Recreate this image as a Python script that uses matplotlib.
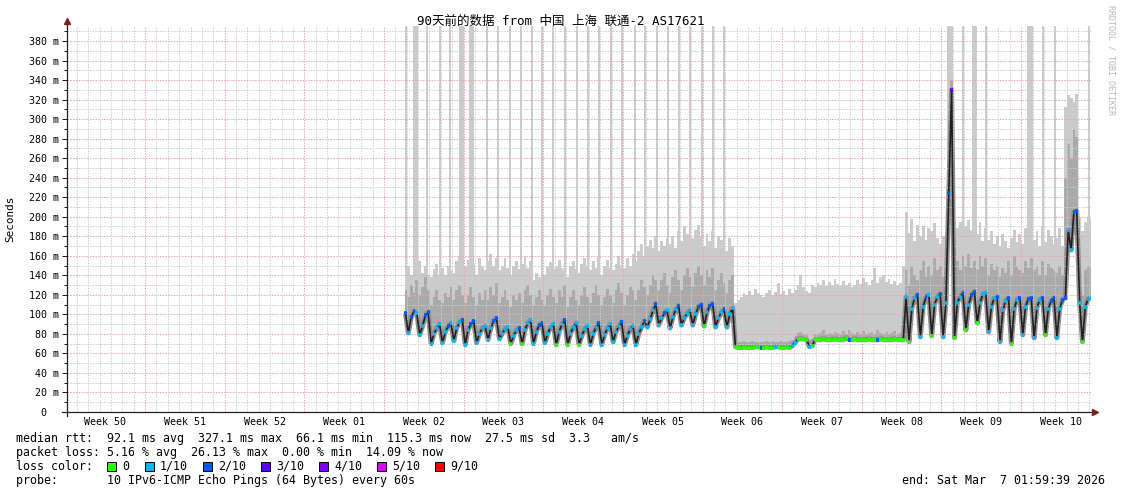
import numpy as np
import matplotlib.pyplot as plt
from matplotlib.collections import LineCollection
from matplotlib.patches import Rectangle
from matplotlib.transforms import blended_transform_factory

plt.rcParams['font.family'] = ['DejaVu Sans Mono']

W, H = 1121, 494

# samples every 6 hours, days counted from the start of the 90 day window
t_start = 29.75
t_step = 0.25

# median rtt in ms, one row per day
median_rtt = [
    101,
    81, 97, 103, 101,
    79, 88, 99, 102,
    70, 80, 86, 90,
    71, 82, 88, 91,
    73, 86, 92, 94,
    69, 84, 90, 93,
    71, 80, 86, 88,
    74, 86, 93, 96,
    75, 80, 85, 87,
    70, 78, 84, 86,
    70, 84, 91, 94,
    70, 82, 89, 91,
    71, 80, 87, 90,
    69, 82, 90, 94,
    69, 80, 87, 91,
    69, 78, 85, 88,
    69, 80, 87, 91,
    69, 79, 86, 90,
    72, 82, 88, 92,
    69, 78, 85, 88,
    69, 80, 87, 93,
    87, 95, 104, 111,
    89, 96, 101, 104,
    86, 97, 105, 109,
    89, 96, 101, 104,
    89, 100, 108, 110,
    88, 102, 109, 111,
    87, 96, 102, 105,
    87, 100, 107, 67,
    66, 66, 67, 66,
    66, 66, 67, 67,
    66, 66, 67, 66,
    66, 67, 67, 66,
    66, 67, 66, 68,
    71, 75, 75, 75,
    74, 67, 68, 74,
    74, 74, 75, 74,
    74, 74, 75, 74,
    74, 74, 76, 74,
    74, 75, 74, 74,
    74, 74, 75, 74,
    74, 74, 75, 74,
    74, 74, 74, 75,
    74, 74, 74, 118,
    72, 106, 117, 120,
    77, 108, 118, 120,
    78, 110, 118, 121,
    77, 112, 224, 330,
    76, 112, 118, 122,
    84, 110, 120, 123,
    91, 112, 121, 122,
    82, 108, 117, 118,
    72, 104, 114, 117,
    70, 106, 115, 117,
    79, 108, 116, 117,
    76, 107, 115, 117,
    79, 106, 114, 117,
    76, 106, 115, 117,
    186, 166, 205, 206,
    112, 72, 108, 116,
    117,
]

# packet loss bucket per sample (0, 1/10, 2/10, 3/10 ...)
loss = [
    2,
    1, 2, 2, 1,
    1, 1, 2, 2,
    1, 1, 1, 1,
    1, 1, 2, 1,
    1, 1, 1, 2,
    1, 1, 2, 2,
    1, 1, 1, 1,
    1, 1, 2, 2,
    1, 1, 1, 1,
    0, 1, 1, 2,
    0, 1, 1, 1,
    1, 1, 2, 2,
    1, 1, 1, 1,
    0, 1, 1, 2,
    0, 1, 1, 1,
    0, 1, 1, 1,
    1, 1, 1, 2,
    1, 1, 1, 1,
    1, 1, 1, 2,
    1, 1, 1, 1,
    1, 1, 1, 2,
    1, 1, 1, 2,
    1, 1, 2, 1,
    1, 1, 1, 2,
    1, 1, 1, 1,
    1, 1, 2, 2,
    0, 1, 2, 2,
    1, 1, 1, 2,
    1, 1, 1, 0,
    0, 0, 0, 0,
    0, 0, 0, 0,
    2, 0, 0, 0,
    0, 1, 0, 0,
    0, 0, 0, 1,
    1, 0, 0, 0,
    0, 1, 0, 0,
    0, 0, 0, 0,
    0, 0, 0, 0,
    0, 0, 0, 2,
    0, 0, 0, 0,
    0, 0, 0, 0,
    0, 2, 0, 0,
    0, 0, 0, 0,
    0, 0, 0, 1,
    0, 1, 1, 2,
    1, 1, 2, 1,
    0, 1, 1, 2,
    1, 1, 2, 3,
    0, 1, 1, 2,
    0, 1, 2, 2,
    0, 1, 1, 1,
    1, 1, 1, 2,
    1, 1, 1, 2,
    0, 1, 1, 2,
    1, 1, 2, 2,
    1, 1, 1, 2,
    0, 1, 2, 2,
    1, 1, 2, 2,
    1, 1, 2, 2,
    1, 0, 1, 1,
    1,
]

# top of the smoke (slowest ping) in ms
smoke_max = [
    145,
    150, 140, 148, 138,
    155, 142, 150, 140,
    138, 146, 152, 140,
    148, 140, 150, 145,
    142, 155, 160, 148,
    150, 156, 146, 152,
    140, 158, 150, 145,
    155, 162, 150, 158,
    145, 150, 158, 148,
    140, 150, 155, 146,
    152, 160, 148, 155,
    135, 142, 138, 145,
    140, 150, 154, 146,
    150, 156, 148, 145,
    138, 150, 155, 146,
    142, 152, 158, 150,
    145, 155, 148, 160,
    140, 150, 156, 148,
    145, 152, 160, 150,
    148, 158, 150, 162,
    155, 165, 172, 160,
    170, 176, 168, 180,
    165, 175, 170, 178,
    172, 180, 168, 185,
    175, 190, 182, 194,
    178, 186, 192, 180,
    170, 182, 175, 185,
    168, 180, 176, 172,
    165, 178, 170, 112,
    115, 118, 122, 120,
    124, 120, 126, 122,
    120, 118, 122, 125,
    120, 123, 132, 121,
    124, 120, 126, 122,
    125, 130, 140, 128,
    124, 122, 130, 128,
    132, 130, 135, 129,
    133, 130, 136, 131,
    129, 134, 130, 132,
    128, 130, 135, 131,
    137, 133, 130, 135,
    147, 132, 138, 140,
    133, 136, 131, 134,
    130, 132, 150, 205,
    183, 198, 175, 192,
    180, 190, 176, 188,
    185, 194, 178, 172,
    180, 175, 395, 395,
    170, 188, 195, 185,
    190, 197, 186, 192,
    182, 195, 175, 188,
    176, 185, 172, 180,
    170, 182, 175, 168,
    178, 186, 174, 182,
    172, 188, 180, 175,
    176, 185, 170, 190,
    174, 186, 180, 172,
    178, 188, 170, 312,
    325, 322, 318, 326,
    200, 185, 195, 200,
    198,
]

# upper edge of the denser part of the smoke in ms
smoke_mid = [
    125,
    118, 130, 122, 135,
    120, 128, 138, 125,
    110, 118, 125, 115,
    112, 122, 118, 128,
    115, 125, 130, 120,
    112, 120, 128, 118,
    110, 122, 115, 125,
    115, 128, 120, 132,
    112, 118, 125, 115,
    108, 120, 115, 122,
    112, 125, 130, 120,
    110, 118, 125, 115,
    110, 120, 126, 118,
    112, 125, 118, 130,
    108, 118, 125, 115,
    110, 120, 128, 118,
    112, 122, 130, 120,
    110, 118, 126, 120,
    112, 125, 132, 122,
    110, 120, 128, 125,
    115, 125, 135, 128,
    120, 130, 140, 135,
    125, 135, 142, 130,
    122, 138, 145, 135,
    125, 140, 148, 138,
    128, 142, 150, 140,
    130, 145, 138, 148,
    125, 135, 142, 132,
    122, 135, 140, 72,
    72, 72, 73, 72,
    72, 73, 72, 72,
    72, 72, 73, 72,
    73, 72, 72, 73,
    72, 72, 73, 74,
    78, 81, 82, 80,
    80, 74, 75, 80,
    80, 81, 84, 80,
    81, 80, 82, 81,
    80, 83, 80, 84,
    81, 80, 82, 80,
    83, 80, 81, 82,
    80, 84, 81, 80,
    82, 80, 81, 83,
    80, 81, 90, 145,
    130, 150, 140, 135,
    145, 155, 138, 150,
    140, 158, 145, 150,
    138, 150, 260, 340,
    135, 155, 145, 160,
    150, 162, 148, 155,
    145, 160, 150, 158,
    140, 152, 145, 150,
    138, 148, 142, 155,
    140, 160, 150, 145,
    142, 155, 148, 158,
    145, 150, 140, 155,
    140, 152, 148, 145,
    142, 150, 140, 240,
    275, 260, 290, 282,
    150, 120, 145, 150,
    148,
]

# samples whose slowest ping runs off the top of the graph
spike_days = [29.80, 30.59, 31.64, 32.79, 33.66, 34.63, 35.51, 36.92, 37.88,
              38.94, 39.90, 40.87, 41.75, 42.72, 43.77, 44.83, 45.80, 46.76,
              47.82, 48.79, 49.93, 50.81, 51.86, 52.83, 53.80, 54.76, 55.82,
              56.79, 57.76, 77.79, 78.76, 79.72, 80.78, 84.64, 85.79, 86.84,
              89.83]
spike_widths = [0.22, 0.44, 0.22, 0.22, 0.22, 0.44, 0.44, 0.22, 0.22,
                0.22, 0.22, 0.22, 0.22, 0.22, 0.22, 0.22, 0.22, 0.22,
                0.22, 0.22, 0.22, 0.22, 0.22, 0.22, 0.22, 0.22, 0.22,
                0.22, 0.22, 0.22, 0.22, 0.44, 0.22, 0.53, 0.22, 0.22,
                0.22]

week_labels = ['Week 50', 'Week 51', 'Week 52', 'Week 01', 'Week 02', 'Week 03',
               'Week 04', 'Week 05', 'Week 06', 'Week 07', 'Week 08', 'Week 09',
               'Week 10']
first_week_line = 6.86

loss_colors = {0: '#26ff00', 1: '#00b8ff', 2: '#0059ff', 3: '#5e00ff',
               4: '#7e00ff', 5: '#dd00ff', 9: '#ff0000'}
loss_legend = ['0', '1/10', '2/10', '3/10', '4/10', '5/10', '9/10']
loss_keys = [0, 1, 2, 3, 4, 5, 9]

t = t_start + t_step * np.arange(len(median_rtt))
med = np.array(median_rtt, float)

fig = plt.figure(figsize=(W / 100, H / 100), dpi=100)
ax_h = 385.65
ax = fig.add_axes([67 / W, 82 / H, 1024 / W, ax_h / H])
ax.set_xlim(0, 90)
ax.set_ylim(0, 395)

light, mid, dark = '#cbcbcb', '#aaaaaa', '#8e8e8e'

ax.fill_between(t, med, smoke_max, step='mid', color=light, lw=0, zorder=1)
sp_bottom = np.interp(spike_days, t, med)
ax.bar(spike_days, 395 - sp_bottom, width=spike_widths, bottom=sp_bottom,
       color=light, lw=0, zorder=1)
ax.fill_between(t, med, smoke_mid, step='mid', color=mid, lw=0, zorder=2)
ax.plot(t, med, color=dark, lw=3.6, solid_capstyle='butt', zorder=3)

# grid: dotted, drawn over the smoke like rrdtool does
gc, mc = '#cdcdcd', '#f0a4a4'
dots = (0, (1.4, 1.4))
for v in range(10, 395, 10):
    ax.axhline(v, color=mc if v % 20 == 0 else gc, lw=0.72, ls=dots, zorder=4)
for k in range(90):
    d = first_week_line - 6 + k
    if d >= 90:
        break
    major = (k % 7) == 6
    ax.axvline(d, color=mc if major else gc, lw=0.72, ls=dots, zorder=4)

# median line and loss colour stubs
ax.plot(t, med, color='#202020', lw=1.2, zorder=5)
segs = [[(ti - t_step / 2, m), (ti + t_step / 2, m)] for ti, m in zip(t, med)]
ax.add_collection(LineCollection(segs, colors=[loss_colors[l] for l in loss],
                                 linewidths=2.6, zorder=6, capstyle='butt'))

for s in ax.spines.values():
    s.set_visible(False)
ax.set_yticks(range(0, 381, 20))
ax.set_yticklabels(['0  ' if v == 0 else f'{v} m' for v in range(0, 381, 20)])
ax.set_yticks(range(10, 395, 20), minor=True)
ax.tick_params(axis='y', which='both', direction='out', color='#1f1f1f',
               width=0.72, labelsize=7.2, pad=2)
ax.tick_params(axis='y', which='major', length=3.6)
ax.tick_params(axis='y', which='minor', length=2)
ax.set_xticks([])

trans = blended_transform_factory(ax.transData, ax.transAxes)
for i, lbl in enumerate(week_labels):
    ax.text(first_week_line - 3.5 + 7 * i, -9.5 / ax_h, lbl, transform=trans,
            ha='center', va='center', fontsize=7.2)

# axes with arrows
ax.plot([-5 / 1024, 1 + 2 / 1024], [0, 0], transform=ax.transAxes,
        color='#1f1f1f', lw=0.9, clip_on=False, zorder=8)
ax.plot([0, 0], [-4 / ax_h, 1 + 3 / ax_h], transform=ax.transAxes,
        color='#1f1f1f', lw=0.9, clip_on=False, zorder=8)
ax.plot([1 + 4 / 1024], [0], transform=ax.transAxes, marker='>', ms=4,
        color='#801f1f', clip_on=False, zorder=9)
ax.plot([0], [1 + 5 / ax_h], transform=ax.transAxes, marker='^', ms=4,
        color='#801f1f', clip_on=False, zorder=9)


def fx(x):
    return x / W


def fy(y):
    return 1 - y / H


fig.text(fx(560.5), fy(21), '90天前的数据 from 中国 上海 联通-2 AS17621',
         ha='center', va='center', fontsize=9,
         family=['DejaVu Sans Mono', 'Noto Sans CJK SC'])
fig.text(fx(10), fy(219), 'Seconds', rotation=90, ha='center', va='center',
         fontsize=7.9)
fig.text(fx(1111), fy(5), 'RRDTOOL / TOBI OETIKER', rotation=-90, ha='center',
         va='top', fontsize=6, color='#b8b8b8')

fs = 8.4
fig.text(fx(16), fy(438), 'median rtt:  92.1 ms avg  327.1 ms max  66.1 ms min  '
         '115.3 ms now  27.5 ms sd  3.3   am/s', va='center', fontsize=fs)
fig.text(fx(16), fy(452), 'packet loss: 5.16 % avg  26.13 % max  0.00 % min  '
         '14.09 % now', va='center', fontsize=fs)
fig.text(fx(16), fy(466), 'loss color:', va='center', fontsize=fs)
box_x = [107, 145, 203, 261, 319, 377, 435]
for bx, key, lbl in zip(box_x, loss_keys, loss_legend):
    fig.patches.append(Rectangle((fx(bx), fy(470.5)), 9 / W, 9 / H,
                                 transform=fig.transFigure, facecolor=loss_colors[key],
                                 edgecolor='#000000', lw=0.7))
    fig.text(fx(bx + 15), fy(466), lbl, va='center', fontsize=fs)
fig.text(fx(16), fy(480), 'probe:       10 IPv6-ICMP Echo Pings (64 Bytes) every 60s',
         va='center', fontsize=fs)
fig.text(fx(1105), fy(480), 'end: Sat Mar  7 01:59:39 2026', ha='right',
         va='center', fontsize=fs)

fig.savefig('out.png', dpi=100)
